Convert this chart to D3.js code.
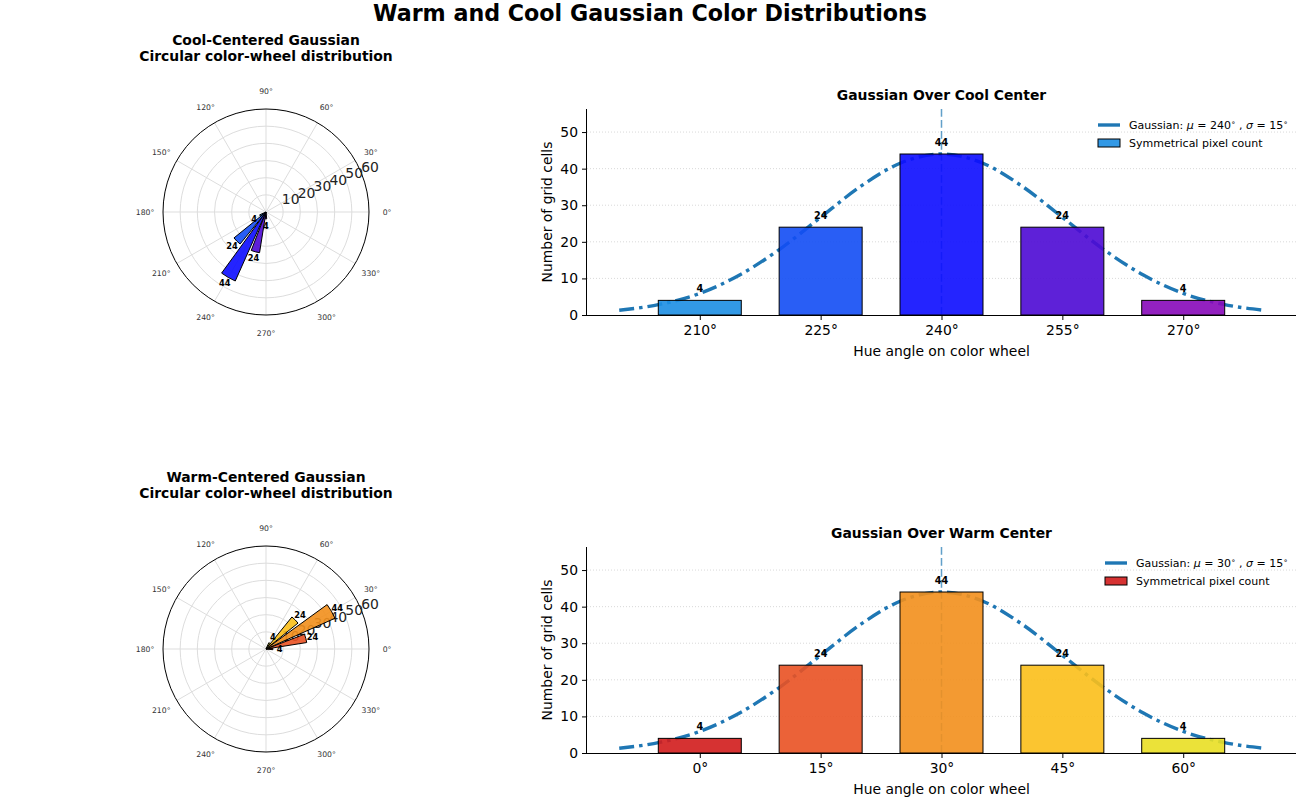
<html>
<head>
  <script src="https://d3js.org/d3.v7.min.js"></script>
  <style>
    body { margin: 0; background: #fff; }
    text { font-family: "DejaVu Sans", sans-serif; }
  </style>
</head>
<body>
  <svg width="1300" height="800" id="fig"></svg>
  <script>
    // data
    const coolAngles = [210, 225, 240, 255, 270];
    const warmAngles = [0, 15, 30, 45, 60];
    const coolCounts = [4, 24, 44, 24, 4];
    const warmCounts = [4, 24, 44, 24, 4];
    const coolColors = ["#1c8ee3", "#124cf4", "#0c0cff", "#4c09d4", "#8709b9"];
    const warmColors = ["#d11c1c", "#e95122", "#f28f1c", "#fbbf1a", "#e9df24"];

    // gaussian curve points, read every 5 degrees
    const coolCurveX = [200, 205, 210, 215, 220, 225, 230, 235, 240, 245, 250, 255, 260, 265, 270, 275, 280];
    const warmCurveX = [-10, -5, 0, 5, 10, 15, 20, 25, 30, 35, 40, 45, 50, 55, 60, 65, 70];
    const curveY = [1.3, 2.9, 5.9, 11.0, 18.1, 26.7, 35.2, 41.6, 44.0, 41.6, 35.2, 26.7, 18.1, 11.0, 5.9, 2.9, 1.3];

    const radialTicks = [10, 20, 30, 40, 50, 60];
    const angleTicks = [0, 30, 60, 90, 120, 150, 180, 210, 240, 270, 300, 330];
    const countTicks = [0, 10, 20, 30, 40, 50];

    const svg = d3.select("#fig");
    const lineBlue = "#1f77b4";

    svg.append("text").attr("x", 650).attr("y", 21).attr("text-anchor", "middle")
      .attr("font-size", "22.2px").attr("font-weight", "bold")
      .text("Warm and Cool Gaussian Color Distributions");

    function polar(cx, cy, titleY, title, angles, counts, colors) {
      const r = d3.scaleLinear().domain([0, 60]).range([0, 103]);
      const g = svg.append("g").attr("transform", `translate(${cx},${cy})`);
      const pt = (deg, rad) => [rad * Math.cos(deg * Math.PI / 180), -rad * Math.sin(deg * Math.PI / 180)];

      svg.append("text").attr("x", cx).attr("y", titleY).attr("text-anchor", "middle")
        .attr("font-size", "13.9px").attr("font-weight", "bold")
        .selectAll("tspan").data(title).join("tspan")
        .attr("x", cx).attr("dy", (d, i) => i ? 16 : 0).text(d => d);

      g.selectAll("circle.ring").data(radialTicks.slice(0, -1)).join("circle")
        .attr("r", d => r(d)).attr("fill", "none").attr("stroke", "#dddddd").attr("stroke-width", 1);
      g.selectAll("line.spoke").data(angleTicks).join("line")
        .attr("x1", 0).attr("y1", 0)
        .attr("x2", d => pt(d, r(60))[0]).attr("y2", d => pt(d, r(60))[1])
        .attr("stroke", "#dddddd").attr("stroke-width", 1);
      g.append("circle").attr("r", r(60)).attr("fill", "none").attr("stroke", "#000").attr("stroke-width", 1);

      g.selectAll("text.ang").data(angleTicks).join("text")
        .attr("x", d => pt(d, 121)[0]).attr("y", d => pt(d, 121)[1] + 3)
        .attr("text-anchor", "middle").attr("font-size", "7.7px").attr("fill", "#333")
        .text(d => d + "°");

      g.selectAll("text.rad").data(radialTicks).join("text")
        .attr("x", d => pt(22.5, r(d))[0]).attr("y", d => pt(22.5, r(d))[1] - 1)
        .attr("font-size", "13.9px").attr("fill", "#222")
        .text(d => d);

      const w = 12 * Math.PI / 180;
      const arc = d3.arc().innerRadius(0);
      g.selectAll("path.bar").data(angles).join("path")
        .attr("d", (d, i) => {
          const a = Math.PI / 2 - d * Math.PI / 180;
          return arc({ outerRadius: r(counts[i]), startAngle: a - w / 2, endAngle: a + w / 2 });
        })
        .attr("fill", (d, i) => colors[i]).attr("fill-opacity", 0.9)
        .attr("stroke", "#000").attr("stroke-width", 1);

      g.selectAll("text.val").data(angles).join("text")
        .attr("x", (d, i) => pt(d, r(counts[i] + 4))[0]).attr("y", (d, i) => pt(d, r(counts[i] + 4))[1] + 3)
        .attr("text-anchor", "middle").attr("font-size", "8.3px").attr("font-weight", "bold")
        .text((d, i) => counts[i]);
    }

    function barChart(top, title, angles, counts, colors, curveX, mu) {
      const left = 587, right = 1296, bottom = top + 206;
      const x = d3.scaleLinear().domain([mu - 44, mu + 44]).range([left, right]);
      const y = d3.scaleLinear().domain([0, 56.3]).range([bottom, top]);
      const g = svg.append("g");

      g.append("text").attr("x", (left + right) / 2).attr("y", top - 9).attr("text-anchor", "middle")
        .attr("font-size", "13.9px").attr("font-weight", "bold").text(title);

      g.selectAll("line.grid").data(countTicks.slice(1)).join("line")
        .attr("x1", left).attr("x2", right).attr("y1", d => y(d)).attr("y2", d => y(d))
        .attr("stroke", "#cfcfcf").attr("stroke-width", 0.8).attr("stroke-dasharray", "1,2");

      const line = d3.line().x((d, i) => x(curveX[i])).y(d => y(d)).curve(d3.curveMonotoneX);
      g.append("path").attr("d", line(curveY)).attr("fill", "none")
        .attr("stroke", lineBlue).attr("stroke-width", 3.4).attr("stroke-dasharray", "15,5,3.5,5");

      g.append("line").attr("x1", x(mu)).attr("x2", x(mu)).attr("y1", top).attr("y2", bottom)
        .attr("stroke", lineBlue).attr("stroke-opacity", 0.7).attr("stroke-width", 1.5)
        .attr("stroke-dasharray", "7.7,3.3");

      const bw = 10.3;
      g.selectAll("rect.bar").data(angles).join("rect")
        .attr("x", d => x(d - bw / 2)).attr("width", x(bw) - x(0))
        .attr("y", (d, i) => y(counts[i])).attr("height", (d, i) => y(0) - y(counts[i]))
        .attr("fill", (d, i) => colors[i]).attr("fill-opacity", 0.9)
        .attr("stroke", "#000").attr("stroke-width", 1);

      g.selectAll("text.val").data(angles).join("text")
        .attr("x", d => x(d)).attr("y", (d, i) => y(counts[i] + 2) - 1)
        .attr("text-anchor", "middle").attr("font-size", "9.7px").attr("font-weight", "bold")
        .text((d, i) => counts[i]);

      const xAxis = g.append("g").attr("transform", `translate(0,${bottom})`)
        .call(d3.axisBottom(x).tickValues(angles).tickSize(5).tickPadding(5).tickFormat(d => d + "°"));
      xAxis.select(".domain").attr("d", `M${left},0.5H${right}`);
      const yAxis = g.append("g").attr("transform", `translate(${left},0)`)
        .call(d3.axisLeft(y).tickValues(countTicks).tickSize(5).tickPadding(4));
      yAxis.select(".domain").attr("d", `M-0.5,${top}V${bottom}`);
      [xAxis, yAxis].forEach(a => {
        a.selectAll("text").attr("font-size", "13.9px").attr("font-family", "DejaVu Sans").attr("fill", "#000");
        a.selectAll("line, .domain").attr("stroke", "#000");
      });

      g.append("text").attr("x", (left + right) / 2).attr("y", bottom + 41).attr("text-anchor", "middle")
        .attr("font-size", "13.9px").text("Hue angle on color wheel");
      g.append("text").attr("transform", `translate(552,${(top + bottom) / 2}) rotate(-90)`)
        .attr("text-anchor", "middle").attr("font-size", "13.9px").text("Number of grid cells");

      // legend
      const lx = mu > 100 ? 1098 : 1105;
      const leg = g.append("g").attr("transform", `translate(${lx},${top + 16})`);
      leg.append("line").attr("x1", 0).attr("x2", 22).attr("y1", 0).attr("y2", 0)
        .attr("stroke", lineBlue).attr("stroke-width", 3.4);
      const t = leg.append("text").attr("x", 31).attr("y", 4).attr("font-size", "11px");
      t.append("tspan").text("Gaussian: ");
      t.append("tspan").attr("font-style", "italic").text("μ");
      t.append("tspan").text(" = " + mu);
      t.append("tspan").attr("dy", -4).attr("font-size", "7.5px").text("∘");
      t.append("tspan").attr("dy", 4).text(" , ");
      t.append("tspan").attr("font-style", "italic").text("σ");
      t.append("tspan").text(" = 15");
      t.append("tspan").attr("dy", -4).attr("font-size", "7.5px").text("∘");
      leg.append("rect").attr("x", 0).attr("y", 14).attr("width", 22).attr("height", 8)
        .attr("fill", colors[0]).attr("fill-opacity", 0.9).attr("stroke", "#000").attr("stroke-width", 1);
      leg.append("text").attr("x", 31).attr("y", 22).attr("font-size", "11px").text("Symmetrical pixel count");
    }

    polar(266, 212, 45, ["Cool-Centered Gaussian", "Circular color-wheel distribution"], coolAngles, coolCounts, coolColors);
    polar(266, 649, 482, ["Warm-Centered Gaussian", "Circular color-wheel distribution"], warmAngles, warmCounts, warmColors);
    barChart(109, "Gaussian Over Cool Center", coolAngles, coolCounts, coolColors, coolCurveX, 240);
    barChart(547, "Gaussian Over Warm Center", warmAngles, warmCounts, warmColors, warmCurveX, 30);
  </script>
</body>
</html>
